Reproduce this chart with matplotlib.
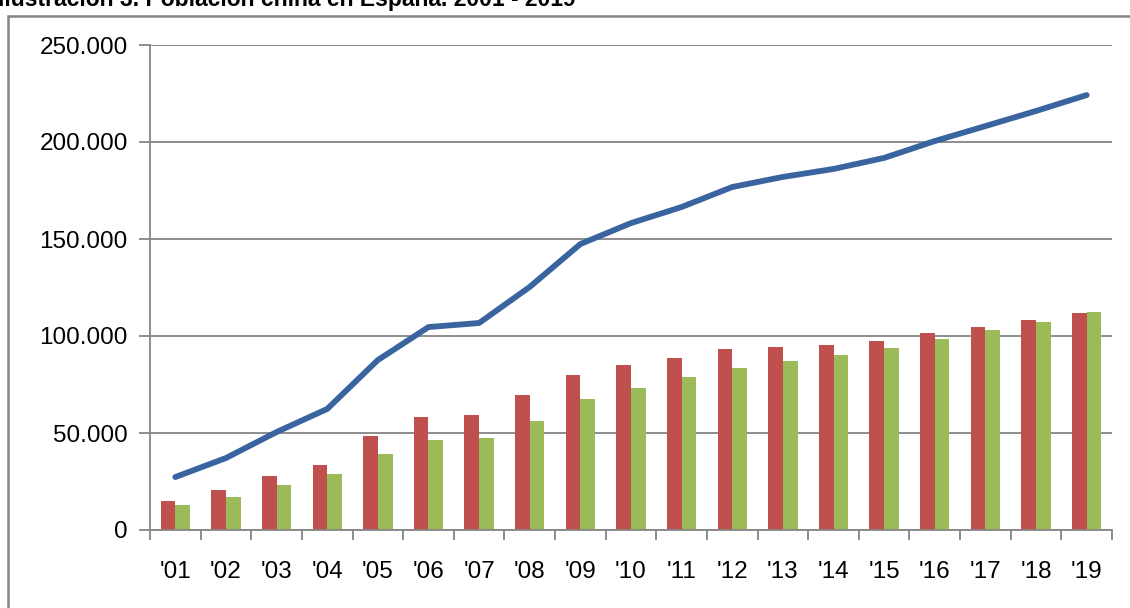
import numpy as np
import matplotlib
matplotlib.use("Agg")
import matplotlib.pyplot as plt
from matplotlib.patches import Rectangle
from matplotlib.ticker import FuncFormatter, FixedLocator

plt.rcParams['font.family'] = ['Liberation Sans', 'DejaVu Sans']

# Datos
years = ["'01", "'02", "'03", "'04", "'05", "'06", "'07", "'08", "'09", "'10",
         "'11", "'12", "'13", "'14", "'15", "'16", "'17", "'18", "'19"]
total = [27300, 37100, 50500, 62400, 87600, 104600, 106700, 125300, 147400, 158200,
         166500, 176800, 182000, 186100, 191800, 200500, 208200, 216000, 224200]
hombres = [14900, 20600, 27800, 33700, 48300, 58400, 59300, 69600, 79900, 85000,
           88700, 93100, 94300, 95500, 97600, 101400, 104800, 108200, 111900]
mujeres = [12700, 17000, 23200, 28700, 39300, 46200, 47400, 56200, 67500, 73200,
           78900, 83600, 87100, 90200, 93700, 98500, 102900, 107200, 112200]

grey = "#858585"
x = np.arange(len(years))
w = 0.29

fig = plt.figure(figsize=(11.3, 6.08), dpi=100)
ax = fig.add_axes([150/1130, 1-530/608, 962/1130, 485/608])

# Marco exterior
fig.patches.append(Rectangle((8/1130, -0.05), 1.1, 1-16/608+0.05, transform=fig.transFigure,
                             fill=False, edgecolor=grey, linewidth=1.8))

ax.bar(x - w/2, hombres, width=w, color="#C0504D", zorder=2)
ax.bar(x + w/2, mujeres, width=w, color="#9BBB59", zorder=2)
ax.plot(x, total, color="#3A64A0", linewidth=4.2, solid_capstyle="round", zorder=3)

ax.set_xlim(-0.5, len(years) - 0.5)
ax.set_ylim(0, 250000)
ax.set_yticks(np.arange(0, 250001, 50000))
ax.yaxis.set_major_formatter(FuncFormatter(lambda v, p: "0" if v == 0 else f"{int(v):,}".replace(",", ".")))
ax.grid(axis="y", color=grey, linewidth=1.3, zorder=0)
ax.set_axisbelow(True)

ax.set_xticks(x)
ax.set_xticklabels(years)
ax.xaxis.set_minor_locator(FixedLocator(np.arange(-0.5, len(years), 1)))
ax.tick_params(axis="x", which="major", length=0, pad=22, labelsize=17.5)
ax.tick_params(axis="x", which="minor", length=7, width=1.3, color=grey)
ax.tick_params(axis="y", length=8, width=1.3, color=grey, labelsize=17.5, pad=8)

for s in ["top", "right"]:
    ax.spines[s].set_visible(False)
for s in ["left", "bottom"]:
    ax.spines[s].set_color(grey)
    ax.spines[s].set_linewidth(1.3)

fig.text(-0.002, 1 - 6/608, "Ilustración 3. Población china en España. 2001 - 2019",
         fontsize=16.5, fontweight="bold", ha="left", va="baseline")

fig.savefig("out.png", dpi=100)
